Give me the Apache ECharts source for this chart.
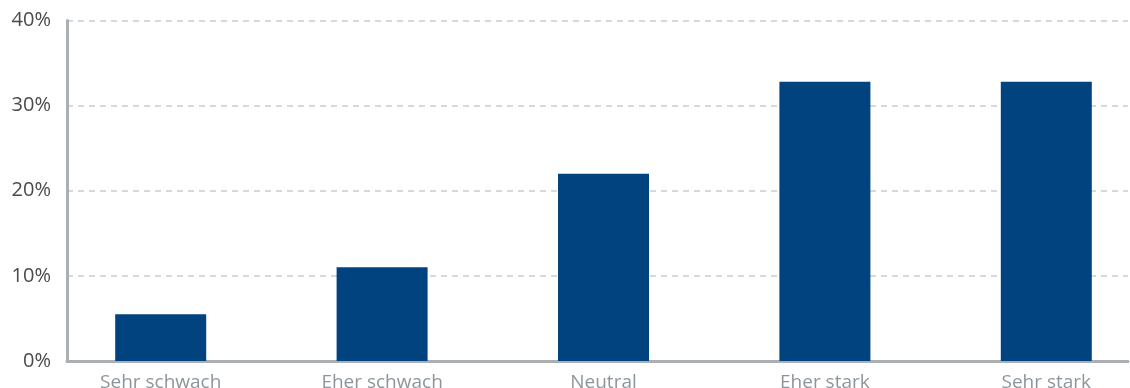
<!DOCTYPE html>
<html>
<head>
<meta charset="utf-8">
<script src="https://cdn.jsdelivr.net/npm/echarts@6/dist/echarts.min.js"></script>
<style>
  html, body { margin: 0; padding: 0; background: #ffffff; overflow: hidden; }
  /* the drawing surface runs a little past the right edge of the page */
  #chart { width: 1157px; height: 388px; }
</style>
</head>
<body>
<div id="chart"></div>
<script>
// Rating categories and their share of responses (%)
const categories = ['Sehr schwach', 'Eher schwach', 'Neutral', 'Eher stark', 'Sehr stark'];
const shares = [5.5, 11, 22, 32.8, 32.8];
const yMin = 0;
const yMax = 40;
const yStep = 10;

const FONT = '"Open Sans", "Noto Sans", sans-serif';
const AXIS_GREY = '#a9afb3';

const chart = echarts.init(document.getElementById('chart'), null, { renderer: 'canvas' });

chart.setOption({
  animation: false,
  backgroundColor: '#ffffff',
  grid: [
    // frame: axis lines, gridlines and value labels
    { left: 67, right: 29, top: 20.5, bottom: 27, containLabel: false, outerBoundsMode: 'none' },
    // bars and category labels
    { left: 50, right: 0, top: 20.5, bottom: 27, containLabel: false, outerBoundsMode: 'none' }
  ],
  xAxis: [
    {
      type: 'category', gridIndex: 0, data: categories,
      axisLine: { show: true, lineStyle: { color: AXIS_GREY, width: 3 } },
      axisTick: { show: false },
      axisLabel: { show: false },
      splitLine: { show: false }
    },
    {
      type: 'category', gridIndex: 1, data: categories,
      axisLine: { show: false },
      axisTick: { show: false },
      axisLabel: { show: true, color: '#8e959a', fontFamily: FONT, fontSize: 19, margin: 12 },
      splitLine: { show: false }
    }
  ],
  yAxis: [
    {
      type: 'value', gridIndex: 0, min: yMin, max: yMax, interval: yStep,
      axisLine: { show: true, lineStyle: { color: AXIS_GREY, width: 3 } },
      axisTick: { show: false },
      axisLabel: { color: '#4a4a4a', fontFamily: FONT, fontSize: 20, margin: 16, formatter: '{value}%' },
      splitLine: { show: true, lineStyle: { color: '#c9cccf', type: [6, 5], width: 1.5 } }
    },
    {
      type: 'value', gridIndex: 1, min: yMin, max: yMax, interval: yStep,
      axisLine: { show: false }, axisTick: { show: false },
      axisLabel: { show: false }, splitLine: { show: false }
    }
  ],
  series: [
    {
      type: 'bar',
      xAxisIndex: 1, yAxisIndex: 1,
      data: shares,
      barWidth: 91,
      itemStyle: { color: '#00437f' },
      z: 1
    }
  ]
});
</script>
</body>
</html>
